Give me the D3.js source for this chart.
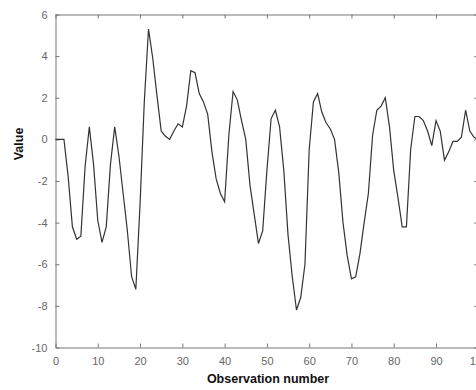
<!DOCTYPE html>
<html>
<head>
<meta charset="utf-8">
<script src="https://cdn.jsdelivr.net/npm/d3@7"></script>
<style>
  body { margin: 0; background: #fff; }
  svg { display: block; }
  .tick text { font-family: "Liberation Sans", Arial, sans-serif; font-size: 11px; fill: #666; }
  .axis-label { font-family: "Liberation Sans", Arial, sans-serif; font-size: 12.5px; font-weight: bold; fill: #111; }
</style>
</head>
<body>
<div id="chart"></div>
<script>
// observation values (obs 0..100)
const observations = d3.range(0, 101);
const values = [
  0, 0, 0, -1.8, -4.2, -4.8, -4.65, -1.3, 0.6, -1.2,
  -3.9, -4.95, -4.2, -1.2, 0.6, -0.8, -2.6, -4.4, -6.6, -7.2,
  -3.1, 1.8, 5.3, 3.9, 2.1, 0.4, 0.15, 0.0, 0.4, 0.75,
  0.6, 1.6, 3.3, 3.2, 2.2, 1.8, 1.2, -0.6, -1.9, -2.6,
  -3.0, 0.2, 2.3, 1.9, 0.9, 0.0, -2.2, -3.6, -5.0, -4.4,
  -1.5, 1.0, 1.4, 0.6, -1.5, -4.6, -6.6, -8.2, -7.6, -6.0,
  -0.5, 1.8, 2.2, 1.3, 0.8, 0.5, 0.0, -1.6, -4.0, -5.6,
  -6.7, -6.6, -5.5, -4.0, -2.6, 0.2, 1.4, 1.6, 2.0, 0.6,
  -1.5, -2.8, -4.2, -4.2, -0.5, 1.1, 1.1, 0.9, 0.4, -0.3,
  0.9, 0.4, -1.0, -0.6, -0.1, -0.1, 0.1, 1.4, 0.4, 0.1,
  0.0
];
const xTicks = [0, 10, 20, 30, 40, 50, 60, 70, 80, 90, 100];
const yTicks = [-10, -8, -6, -4, -2, 0, 2, 4, 6];

const WIDTH = 476;
const HEIGHT = 390;
const LEFT = 55.5;
const RIGHT = 478.3;   // plot box runs past the window edge
const TOP = 14.5;
const BOTTOM = 347.5;
const TICK = 4;

const svg = d3.select("#chart")
    .append("svg")
    .attr("width", WIDTH)
    .attr("height", HEIGHT);

const x = d3.scaleLinear().domain([0, 100]).range([LEFT, RIGHT]);
const y = d3.scaleLinear().domain([-10, 6]).range([BOTTOM, TOP]);

// axes, ticks pointing inwards (matlab style)
const styleAxis = g => {
    g.select(".domain").attr("stroke", "#777");
    g.selectAll(".tick line").attr("stroke", "#777");
};

svg.append("g")
    .attr("transform", `translate(0,${BOTTOM})`)
    .call(d3.axisBottom(x).tickValues(xTicks).tickSizeInner(-TICK).tickSizeOuter(0).tickPadding(10).tickFormat(d => String(d)))
    .call(styleAxis);

svg.append("g")
    .attr("transform", `translate(0,${TOP})`)
    .call(d3.axisTop(x).tickValues(xTicks).tickSizeInner(-TICK).tickSizeOuter(0).tickFormat(""))
    .call(styleAxis);

svg.append("g")
    .attr("transform", `translate(${LEFT},0)`)
    .call(d3.axisLeft(y).tickValues(yTicks).tickSizeInner(-TICK).tickSizeOuter(0).tickPadding(8).tickFormat(d => String(d)))
    .call(styleAxis);

svg.append("g")
    .attr("transform", `translate(${RIGHT},0)`)
    .call(d3.axisRight(y).tickValues(yTicks).tickSizeInner(-TICK).tickSizeOuter(0).tickFormat(""))
    .call(styleAxis);

// the series
const line = d3.line()
    .x((d, i) => x(observations[i]))
    .y(d => y(d));

svg.append("path")
    .datum(values)
    .attr("fill", "none")
    .attr("stroke", "#333")
    .attr("stroke-width", 1.2)
    .attr("d", line);

// axis titles
svg.append("text")
    .attr("class", "axis-label")
    .attr("x", 268)
    .attr("y", 383)
    .attr("text-anchor", "middle")
    .text("Observation number");

svg.append("text")
    .attr("class", "axis-label")
    .attr("transform", `translate(23,144) rotate(-90)`)
    .attr("text-anchor", "middle")
    .text("Value");
</script>
</body>
</html>
